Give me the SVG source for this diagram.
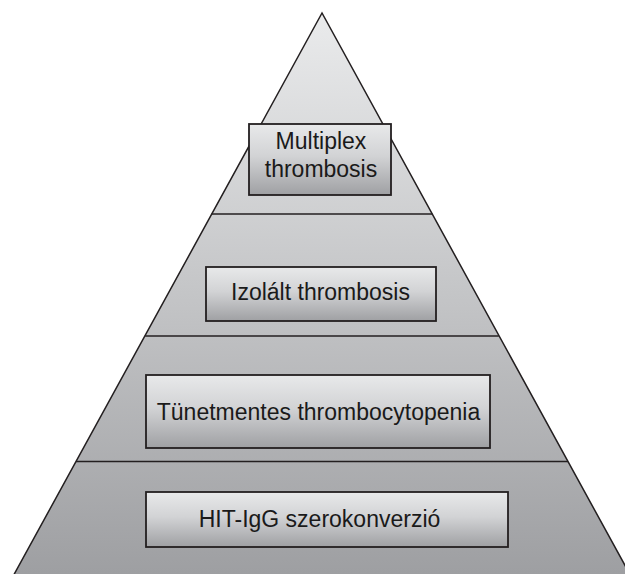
<svg xmlns="http://www.w3.org/2000/svg" width="625" height="574" viewBox="0 0 625 574">
  <style>
    .sep { stroke: #231f20; stroke-width: 1.5; fill: none; }
    .box { fill: url(#boxGrad); stroke: #231f20; stroke-width: 1.8; }
    .lbl { font-family: "Liberation Sans", Arial, sans-serif; font-size: 23px; fill: #1a1a1a; text-anchor: middle; }
  </style>
  <defs>
    <linearGradient id="pyrGrad" gradientUnits="userSpaceOnUse" x1="0" y1="13" x2="0" y2="574">
      <stop offset="0" stop-color="#eaebec"/>
      <stop offset="1" stop-color="#9e9fa2"/>
    </linearGradient>
    <linearGradient id="boxGrad" x1="0" y1="0" x2="0" y2="1">
      <stop offset="0" stop-color="#e8e9ea"/>
      <stop offset="0.45" stop-color="#d2d3d5"/>
      <stop offset="1" stop-color="#9fa0a3"/>
    </linearGradient>
  </defs>
  <rect width="625" height="574" fill="#ffffff"/>
  <g id="pyramid">
    <polygon points="322,13 11,580 633,580" fill="url(#pyrGrad)" stroke="#231f20" stroke-width="1.5" stroke-linejoin="miter"/>
  </g>
  <g id="connectors">
    <line class="sep" x1="211.6" y1="214" x2="432.4" y2="214"/>
    <line class="sep" x1="145.2" y1="336" x2="498.8" y2="336"/>
    <line class="sep" x1="76" y1="461.5" x2="568" y2="461.5"/>
  </g>
  <g id="node-multiplex">
    <rect class="box" x="249" y="124" width="142" height="71"/>
    <text class="lbl" x="321" y="149">Multiplex</text>
    <text class="lbl" x="321" y="177">thrombosis</text>
  </g>
  <g id="node-izolalt">
    <rect class="box" x="206" y="267" width="230" height="54"/>
    <text class="lbl" x="320.5" y="300">Izolált thrombosis</text>
  </g>
  <g id="node-tunetmentes">
    <rect class="box" x="146" y="375" width="344" height="73"/>
    <text class="lbl" x="318.5" y="420">Tünetmentes thrombocytopenia</text>
  </g>
  <g id="node-hit">
    <rect class="box" x="146" y="492" width="362" height="55"/>
    <text class="lbl" x="319.5" y="527">HIT-IgG szerokonverzió</text>
  </g>
</svg>
